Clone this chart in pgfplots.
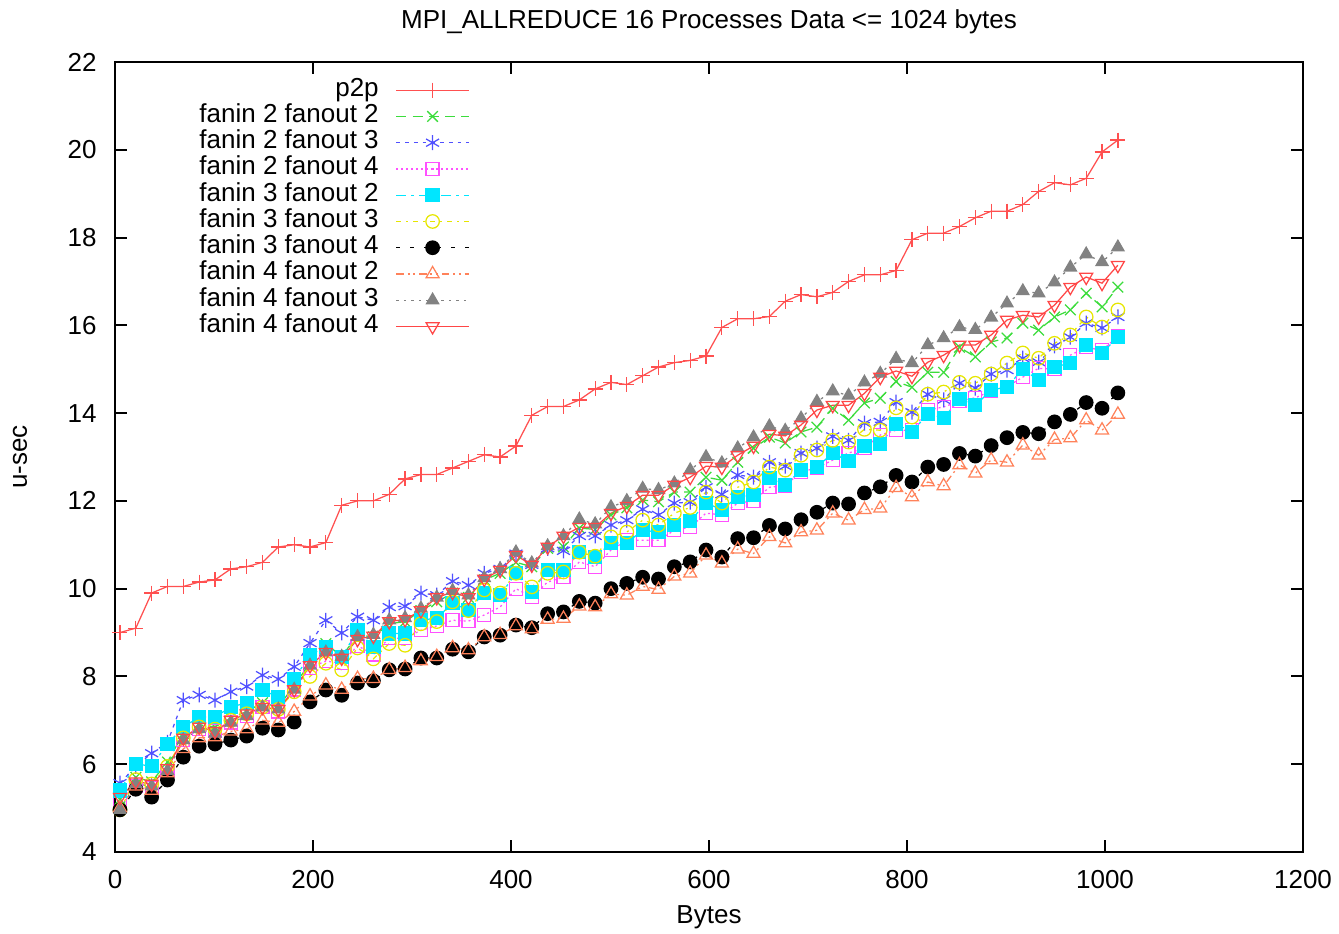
\documentclass[border=0pt]{standalone}
\usepackage{fontspec}
\setmainfont{Liberation Sans}
\usepackage{pgfplots}
\usepackage{pgfplotstable}
\pgfplotsset{compat=1.18}

\definecolor{cp2p}{RGB}{255,80,80}
\definecolor{c22}{RGB}{60,220,60}
\definecolor{c23}{RGB}{80,80,255}
\definecolor{c24}{RGB}{255,80,255}
\definecolor{c32}{RGB}{0,230,255}
\definecolor{c33}{RGB}{230,230,0}
\definecolor{c34}{RGB}{0,0,0}
\definecolor{c42}{RGB}{255,130,90}
\definecolor{c43}{RGB}{130,130,130}
\definecolor{c44}{RGB}{255,70,70}

\pgfplotstableread{
x p2p a22 a23 a24 a32 a33 a34 a42 a43 a44
5 9.0 5.2 5.57 5.18 5.4 4.96 4.96 5.0 4.96 5.25
21 9.1 5.7 5.95 5.5 6.0 5.65 5.43 5.5 5.55 5.6
37 9.9 5.6 6.25 5.45 5.96 5.55 5.25 5.4 5.5 5.55
53 10.05 6.05 6.5 5.85 6.46 5.95 5.64 5.8 5.85 5.9
69 10.05 6.7 7.46 6.55 6.85 6.6 6.16 6.35 6.55 6.6
85 10.15 6.9 7.58 6.8 7.07 6.85 6.41 6.6 6.8 6.85
101 10.2 6.85 7.46 6.75 7.08 6.8 6.46 6.62 6.7 6.75
117 10.45 7.05 7.65 6.95 7.3 7.0 6.55 6.75 6.95 7.0
133 10.5 7.2 7.77 7.1 7.4 7.15 6.64 6.8 7.1 7.15
149 10.6 7.4 8.03 7.3 7.69 7.3 6.82 7.0 7.3 7.3
165 10.95 7.3 7.94 7.2 7.53 7.25 6.78 6.95 7.25 7.25
181 11.0 7.8 8.22 7.7 7.94 7.65 6.96 7.2 7.7 7.7
197 10.95 8.3 8.76 8.2 8.49 8.0 7.42 7.55 8.25 8.25
213 11.05 8.75 9.28 8.35 8.67 8.3 7.69 7.8 8.55 8.55
229 11.9 8.45 8.99 8.3 8.44 8.15 7.57 7.7 8.45 8.42
245 12.0 8.95 9.36 8.7 9.05 8.65 7.85 7.95 8.9 8.85
261 12.0 8.9 9.28 8.5 8.67 8.4 7.9 7.95 8.95 8.92
277 12.15 9.2 9.58 8.87 8.98 8.75 8.15 8.15 9.28 9.25
293 12.5 9.25 9.6 8.87 8.98 8.71 8.17 8.2 9.33 9.3
309 12.6 9.5 9.9 9.05 9.28 9.2 8.42 8.35 9.55 9.5
325 12.6 9.7 9.85 9.15 9.33 9.25 8.42 8.45 9.8 9.8
341 12.75 9.9 10.17 9.28 9.67 9.7 8.62 8.65 9.95 9.92
357 12.9 9.8 10.08 9.26 9.51 9.5 8.56 8.6 9.85 9.8
373 13.05 10.2 10.35 9.4 9.9 9.97 8.9 8.9 10.24 10.22
389 13.0 10.35 10.45 9.58 9.85 9.9 8.94 8.95 10.45 10.42
405 13.25 10.6 10.8 10.0 10.35 10.35 9.17 9.15 10.83 10.76
421 13.95 10.5 10.54 9.81 9.93 10.04 9.11 9.08 10.58 10.54
437 14.15 10.92 10.92 10.15 10.42 10.35 9.43 9.3 10.97 10.95
453 14.15 10.95 10.86 10.26 10.42 10.38 9.47 9.32 11.2 11.2
469 14.3 11.38 11.2 10.61 10.83 10.83 9.71 9.6 11.58 11.4
485 14.55 11.35 11.2 10.5 10.72 10.74 9.67 9.58 11.47 11.4
501 14.7 11.68 11.45 10.88 11.04 11.18 10.0 9.88 11.86 11.72
517 14.65 11.84 11.56 11.1 11.04 11.29 10.12 9.85 12.0 11.88
533 14.85 12.02 11.81 11.1 11.33 11.56 10.26 10.05 12.28 12.13
549 15.05 11.98 11.68 11.1 11.29 11.45 10.22 9.98 12.25 12.13
565 15.15 12.2 11.95 11.33 11.45 11.72 10.5 10.28 12.4 12.36
581 15.2 12.2 11.97 11.4 11.54 11.85 10.61 10.35 12.7 12.54
597 15.3 12.54 12.31 11.72 11.95 12.2 10.88 10.76 13.0 12.79
613 15.95 12.47 12.15 11.68 11.8 11.95 10.72 10.58 12.86 12.77
629 16.15 12.88 12.59 11.95 12.09 12.31 11.14 10.9 13.2 13.04
645 16.15 13.2 12.54 12.0 12.13 12.43 11.16 10.8 13.45 13.25
661 16.2 13.45 12.88 12.31 12.52 12.77 11.44 11.18 13.7 13.52
677 16.55 13.32 12.79 12.35 12.36 12.7 11.36 11.04 13.6 13.48
693 16.7 13.57 13.09 12.66 12.7 13.04 11.57 11.29 13.88 13.73
709 16.65 13.68 13.2 12.75 12.77 13.16 11.74 11.33 14.26 14.07
725 16.75 14.11 13.47 12.93 13.09 13.38 11.95 11.72 14.5 14.18
741 17.0 13.84 13.38 13.09 12.9 13.34 11.93 11.56 14.4 14.18
757 17.15 14.23 13.77 13.2 13.25 13.63 12.18 11.8 14.7 14.45
773 17.15 14.34 13.8 13.5 13.3 13.61 12.32 11.83 14.9 14.82
789 17.25 14.72 14.25 13.61 13.75 14.12 12.58 12.3 15.24 14.96
805 17.95 14.59 14.02 13.61 13.57 13.91 12.43 12.09 15.14 14.84
821 18.1 14.93 14.43 14.07 13.98 14.43 12.77 12.43 15.55 15.16
837 18.1 14.93 14.3 14.14 13.89 14.48 12.83 12.34 15.71 15.32
853 18.25 15.5 14.68 14.27 14.32 14.7 13.08 12.82 15.96 15.55
869 18.45 15.28 14.57 14.35 14.18 14.68 13.02 12.63 15.9 15.55
885 18.6 15.62 14.89 14.5 14.52 14.89 13.26 12.93 16.18 15.78
901 18.6 15.71 14.98 14.6 14.6 15.14 13.44 12.88 16.5 16.12
917 18.75 16.05 15.25 14.82 15.0 15.37 13.56 13.27 16.78 16.23
933 19.05 15.89 15.16 15.02 14.75 15.25 13.53 13.04 16.73 16.19
949 19.25 16.19 15.53 15.0 15.05 15.59 13.8 13.4 16.98 16.46
965 19.2 16.35 15.73 15.32 15.14 15.78 13.97 13.43 17.32 16.87
981 19.35 16.73 16.05 15.5 15.55 16.19 14.24 13.84 17.62 17.1
997 19.95 16.42 15.94 15.43 15.37 15.96 14.11 13.61 17.44 16.96
1013 20.22 16.87 16.19 15.75 15.73 16.35 14.46 13.97 17.78 17.37
}\data

\begin{document}
\begin{tikzpicture}
\begin{axis}[
  scale only axis, width=475.2pt, height=316pt,
  xmin=0, xmax=1200, ymin=4, ymax=22,
  xtick={0,200,...,1200}, ytick={4,6,...,22},
  tick align=inside, major tick length=4.8pt,
  tick style={line width=0.8pt, black},
  axis line style={line width=0.8pt},
  font=\fontsize{10.4}{12.5}\selectfont,
  /pgf/number format/assume math mode=true,
  /pgf/number format/1000 sep={},
  xticklabel style={anchor=center, inner sep=0pt, yshift=-11.2pt},
  yticklabel style={anchor=east, inner sep=0pt, xshift=-7.2pt},
  title={MPI\_ALLREDUCE 16 Processes Data <= 1024 bytes},
  title style={at={(axis description cs:0.5,1)}, anchor=center, yshift=10pt, inner sep=0pt},
  xlabel={Bytes}, ylabel={u-sec},
  xlabel style={at={(axis description cs:0.5,-0.083)}, anchor=center, inner sep=0pt},
  ylabel style={at={(axis description cs:-0.08,0.5)}, anchor=center, inner sep=0pt},
  legend plot pos=right,
  legend cell align=right,
  legend image code/.code={\draw[mark repeat=2,mark phase=2] plot coordinates {(0pt,0pt) (14.5pt,0pt) (29pt,0pt)};},
  legend style={at={(0.2988,0.9815)}, anchor=north east, draw=none, fill=none,
    inner sep=0pt, row sep=0pt, column sep=6.8pt,
    nodes={inner sep=0pt, text height=7.6pt, text depth=2.9pt},
    font=\fontsize{10.4}{12.5}\selectfont},
  every axis plot/.append style={line width=0.5pt},
]
\coordinate (O) at (rel axis cs:0,0);
\addplot[color=cp2p, solid, mark=+, mark size=3pt, mark options={solid}] table[x=x,y=p2p]{\data};
\addlegendentry{p2p}
\addplot[color=c22, dash pattern=on 4pt off 2.5pt, mark=x, mark size=3pt, mark options={solid}] table[x=x,y=a22]{\data};
\addlegendentry{fanin 2 fanout 2}
\addplot[color=c23, dash pattern=on 1.5pt off 2pt, mark=asterisk, mark size=3pt, mark options={solid}] table[x=x,y=a23]{\data};
\addlegendentry{fanin 2 fanout 3}
\addplot[color=c24, dash pattern=on 0.8pt off 1.2pt, mark=square, mark size=2.6pt, mark options={solid}] table[x=x,y=a24]{\data};
\addlegendentry{fanin 2 fanout 4}
\addplot[color=c32, dash pattern=on 4pt off 2pt on 1pt off 2pt, mark=square*, mark size=2.6pt, mark options={solid, fill=c32}] table[x=x,y=a32]{\data};
\addlegendentry{fanin 3 fanout 2}
\addplot[color=c33, dash pattern=on 2pt off 2pt on 0.8pt off 2pt, mark=o, mark size=2.7pt, mark options={solid}] table[x=x,y=a33]{\data};
\addlegendentry{fanin 3 fanout 3}
\addplot[color=c34, dash pattern=on 1.5pt off 4pt, mark=*, mark size=2.7pt, mark options={solid, fill=c34}] table[x=x,y=a34]{\data};
\addlegendentry{fanin 3 fanout 4}
\addplot[color=c42, dash pattern=on 3pt off 1.5pt on 0.8pt off 1.5pt on 0.8pt off 1.5pt, mark=triangle, mark size=3pt, mark options={solid}] table[x=x,y=a42]{\data};
\addlegendentry{fanin 4 fanout 2}
\addplot[color=c43, dash pattern=on 1pt off 2pt, mark=triangle*, mark size=2.8pt, mark options={solid, fill=c43}] table[x=x,y=a43]{\data};
\addlegendentry{fanin 4 fanout 3}
\addplot[color=c44, solid, mark=triangle, mark size=3pt, mark options={solid, rotate=180}] table[x=x,y=a44]{\data};
\addlegendentry{fanin 4 fanout 4}
\end{axis}
\pgfresetboundingbox
\path ([shift={(-46pt,-32.8pt)}]O) rectangle ++(535.6pt,373.6pt);
\end{tikzpicture}
\end{document}
